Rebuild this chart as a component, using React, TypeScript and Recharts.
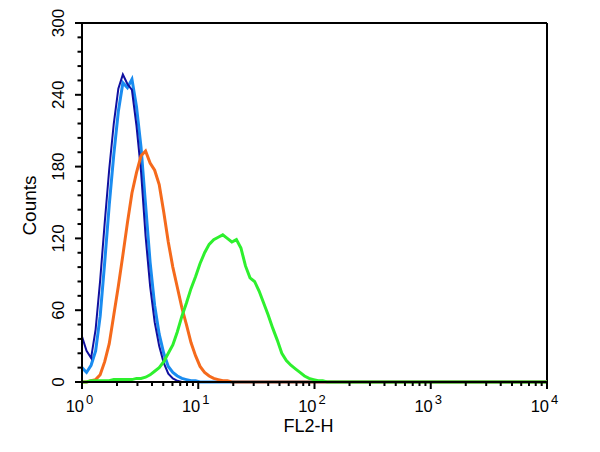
import React from 'react';
import { LineChart, Line, XAxis, YAxis, ReferenceLine } from 'recharts';

// FL2-H channel (0..1024 = 10^0..10^4, 256 channels per decade)
const channels = [
  0, 10, 20, 30, 40, 50, 60, 70, 80, 90,
  100, 110, 120, 130, 140, 150, 160, 170, 180, 190,
  200, 210, 220, 230, 240, 250, 260, 270, 280, 290,
  300, 310, 320, 330, 340, 350, 360, 370, 380, 390,
  400, 410, 420, 430, 440, 450, 460, 470, 480, 490,
  500, 510, 520, 530, 540, 550, 560, 570, 580, 590,
  600, 1024,
];

const navy = [
  38, 26, 20, 44, 85, 133, 178, 216, 245, 257,
  249, 244, 214, 176, 122, 80, 50, 30, 16, 7,
  3, 1, 0, 0, 0, 0, 0, 0, 0, 0,
  0, 0, 0, 0, 0, 0, 0, 0, 0, 0,
  0, 0, 0, 0, 0, 0, 0, 0, 0, 0,
  0, 0, 0, 0, 0, 0, 0, 0, 0, 0,
  0, 0,
];

const lightBlue = [
  12, 8, 14, 26, 55, 100, 148, 190, 226, 250,
  246, 253, 230, 196, 148, 100, 64, 40, 24, 13,
  8, 5, 3, 2, 1, 1, 0, 0, 0, 0,
  0, 0, 0, 0, 0, 0, 0, 0, 0, 0,
  0, 0, 0, 0, 0, 0, 0, 0, 0, 0,
  0, 0, 0, 0, 0, 0, 0, 0, 0, 0,
  0, 0,
];

const orange = [
  0, 0, 1, 2, 6, 17, 32, 56, 80, 106,
  133, 158, 175, 189, 193, 183, 177, 165, 142, 117,
  96, 79, 62, 48, 33, 22, 13, 8, 5, 3,
  2, 1, 1, 0, 0, 0, 0, 0, 0, 0,
  0, 0, 0, 0, 0, 0, 0, 0, 0, 0,
  0, 0, 0, 0, 0, 0, 0, 0, 0, 0,
  0, 0,
];

const green = [
  0, 0, 1, 1, 1, 1, 1, 2, 2, 2,
  2, 2, 3, 3, 4, 6, 9, 12, 17, 24,
  31, 42, 55, 66, 78, 88, 99, 108, 115, 119,
  121, 123, 120, 117, 119, 112, 97, 87, 84, 76,
  66, 56, 45, 35, 24, 18, 14, 11, 8, 5,
  3, 2, 1, 1, 0, 0, 0, 0, 0, 0,
  0, 0,
];

const xMajorTicks = [0, 256, 512, 768, 1024];
const xExponents = ['0', '1', '2', '3', '4'];
// channel offsets of 2..9 within a decade
const xMinorOffsets = [77.1, 122.1, 154.1, 178.9, 199.2, 216.3, 231.2, 244.3];
const xMinorTicks = [0, 256, 512, 768].flatMap((d) => xMinorOffsets.map((o) => d + o));

const yMajorTicks = [0, 60, 120, 180, 240, 300];
const yAllTicks = [
  0, 12, 24, 36, 48, 60, 72, 84, 96, 108, 120, 132, 144,
  156, 168, 180, 192, 204, 216, 228, 240, 252, 264, 276, 288, 300,
];

const data = channels.map((ch, i) => ({
  ch,
  navy: navy[i],
  lightBlue: lightBlue[i],
  orange: orange[i],
  green: green[i],
}));

const FONT = '"Liberation Sans", Arial, Helvetica, sans-serif';

const XTick = (props: any) => {
  const { x, y, payload } = props;
  const v = payload.value;
  const idx = xMajorTicks.indexOf(v);
  const major = idx >= 0;
  return (
    <g>
      <line x1={x} x2={x} y1={y} y2={y + (major ? 7 : 4)} stroke="#000" strokeWidth={2} />
      {major && (
        <g fontFamily={FONT} fill="#000">
          <text x={x + 2} y={y + 30} textAnchor="end" fontSize={16.5}>10</text>
          <text x={x + 4} y={y + 22} textAnchor="start" fontSize={13}>{xExponents[idx]}</text>
        </g>
      )}
    </g>
  );
};

const YTick = (props: any) => {
  const { x, y, payload } = props;
  const v = payload.value;
  const major = yMajorTicks.includes(v);
  const lx = 64;
  return (
    <g>
      <line x1={x - (major ? 7 : 4.5)} x2={x} y1={y} y2={y} stroke="#000" strokeWidth={2} />
      {major && (
        <text
          x={lx}
          y={y}
          transform={`rotate(-90 ${lx} ${y})`}
          textAnchor="middle"
          fontSize={17}
          fontFamily={FONT}
          fill="#000"
        >
          {v}
        </text>
      )}
    </g>
  );
};

const CountsLabel = (props: any) => {
  const vb = props.viewBox || { x: 0, y: 23, width: 82, height: 359 };
  const cy = vb.y + vb.height / 2 + 3;
  const cx = 36;
  return (
    <text
      x={cx}
      y={cy}
      transform={`rotate(-90 ${cx} ${cy})`}
      textAnchor="middle"
      fontSize={19}
      fontFamily={FONT}
      fill="#000"
    >
      Counts
    </text>
  );
};

const FLLabel = (props: any) => {
  const vb = props.viewBox || { x: 82, y: 382, width: 465, height: 70 };
  const cx = vb.x + vb.width / 2 - 6;
  return (
    <text x={cx} y={432} textAnchor="middle" fontSize={18} fontFamily={FONT} fill="#000">
      FL2-H
    </text>
  );
};

export default function App() {
  return (
    <div style={{ position: 'absolute', left: 0, top: 0, width: 600, height: 452, background: '#fff' }}>
      <LineChart width={600} height={452} data={data} margin={{ top: 23, right: 53, bottom: 0, left: 0 }}>
        <XAxis
          dataKey="ch"
          type="number"
          domain={[0, 1024]}
          ticks={[...xMajorTicks, ...xMinorTicks]}
          interval={0}
          tick={<XTick />}
          tickLine={false}
          tickSize={0}
          tickMargin={0}
          height={70}
          axisLine={{ stroke: '#000', strokeWidth: 2 }}
          label={{ content: (p: any) => <FLLabel {...p} /> }}
        />
        <YAxis
          type="number"
          domain={[0, 300]}
          ticks={yAllTicks}
          interval={0}
          tick={<YTick />}
          tickLine={false}
          tickSize={0}
          tickMargin={0}
          width={82}
          axisLine={{ stroke: '#000', strokeWidth: 2 }}
          label={{ content: (p: any) => <CountsLabel {...p} /> }}
        />
        <ReferenceLine y={300} stroke="#000" strokeWidth={2} />
        <ReferenceLine x={1024} stroke="#000" strokeWidth={2} />
        <Line type="linear" dataKey="lightBlue" stroke="#1a8cf0" strokeWidth={3} dot={false} isAnimationActive={false} />
        <Line type="linear" dataKey="navy" stroke="#1010a0" strokeWidth={2} dot={false} isAnimationActive={false} />
        <Line type="linear" dataKey="orange" stroke="#f56a1c" strokeWidth={3} dot={false} isAnimationActive={false} />
        <Line type="linear" dataKey="green" stroke="#2ef02e" strokeWidth={3} dot={false} isAnimationActive={false} />
      </LineChart>
    </div>
  );
}
